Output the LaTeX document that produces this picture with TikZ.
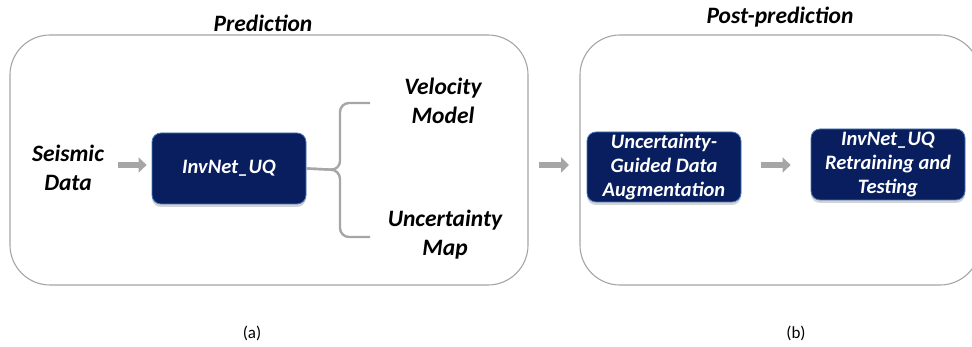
\documentclass[tikz,border=0pt]{standalone}
\usepackage{fontspec}
\setmainfont{Carlito}
\usetikzlibrary{arrows.meta,shadows}
\definecolor{navy}{RGB}{8,30,94}
\definecolor{edgeblue}{RGB}{70,120,190}
\definecolor{flowgray}{RGB}{166,166,166}
\definecolor{framegray}{RGB}{165,165,165}
\tikzset{
  frame/.style={draw=framegray, line width=1.1pt, rounded corners=40pt},
  stage/.style={draw=edgeblue, line width=0.8pt, fill=navy, rounded corners=9pt,
    text=white, font=\fontsize{20.5}{24}\selectfont\bfseries\itshape, align=center,
    inner sep=0pt, drop shadow={shadow xshift=0pt, shadow yshift=-3pt, opacity=0.35}},
  label/.style={font=\fontsize{23.5}{29}\selectfont\bfseries\itshape, align=center, inner sep=0pt},
  heading/.style={font=\fontsize{23.5}{29}\selectfont\bfseries\itshape, inner sep=0pt},
  caption/.style={font=\fontsize{17}{19}\selectfont, inner sep=0pt},
  flow/.style={draw=flowgray, line width=6pt, -{Triangle[length=8pt,width=15pt]}},
  bracket/.style={draw=flowgray, line width=2.4pt, rounded corners=9pt}
}
\begin{document}
\begin{tikzpicture}[x=1pt,y=-1pt]
\useasboundingbox (0,0) rectangle (972,347);
\clip (0,0) rectangle (972,347);

% outer frames
\draw[frame] (10,35) rectangle (528,285);
\draw[frame] (580,35) rectangle (980,285);
\coordinate (predE) at (528,165);
\coordinate (postW) at (580,165);

% titles
\node[heading] (ttlA) at (263,23) {Prediction};
\node[heading] (ttlB) at (780,17) {Post-prediction};

% prediction stage
\node[label] (seis) at (68,168) {Seismic\\Data};
\node[stage, minimum width=154pt, minimum height=71pt] (net) at (229,168.5) {InvNet\_UQ};
\node[label] (vel) at (443,101) {Velocity\\Model};
\node[label] (unc) at (445,235) {Uncertainty\\Map};

\draw[flow] (118,165) -- ([xshift=-5pt]net.west |- 0,165);
\coordinate (brTop) at (370,103);
\coordinate (brBot) at (370,237);
\draw[bracket] (brTop) -| (340,170) -- (net.east);
\draw[bracket] (brBot) -| (340,170) -- (net.east);

% post-prediction stage
\node[stage, minimum width=154pt, minimum height=70pt] (aug) at (664,167) {Uncertainty-\\Guided Data\\Augmentation};
\node[stage, minimum width=154pt, minimum height=71pt] (retr) at (888,164.5) {InvNet\_UQ\\Retraining and\\Testing};

\draw[flow] ([xshift=11pt]predE) -- ([xshift=-11pt]postW);
\draw[flow] ([xshift=20pt]aug.east |- 0,165) -- ([xshift=-20pt]retr.west |- 0,165);

% captions
\node[caption] (capA) at (252,333) {(a)};
\node[caption] (capB) at (796,333) {(b)};
\end{tikzpicture}
\end{document}
